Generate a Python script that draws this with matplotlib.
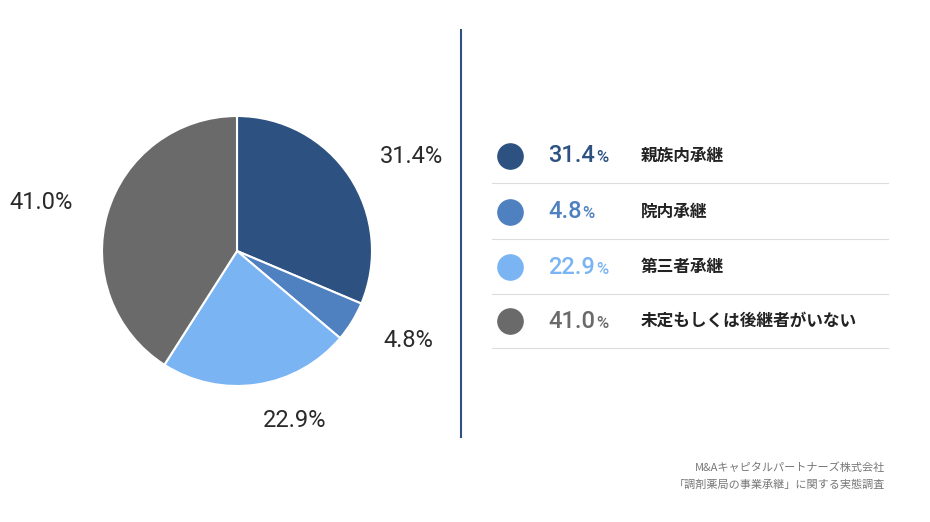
import numpy as np
import matplotlib
matplotlib.use("Agg")
import matplotlib.pyplot as plt

plt.rcParams['font.family'] = ['Noto Sans CJK JP', 'DejaVu Sans']

categories = ["親族内承継", "院内承継", "第三者承継", "未定もしくは後継者がいない"]
values = [31.4, 4.8, 22.9, 41.0]
colors = ["#2d5282", "#4f80c0", "#7ab4f2", "#6a6a6a"]
source_lines = ["M&Aキャピタルパートナーズ株式会社", "「調剤薬局の事業承継」に関する実態調査"]

W, H = 930, 522
fig = plt.figure(figsize=(W / 100, H / 100), dpi=100)
num_font = ["Roboto", "DejaVu Sans"]

# pie: center (237, 251), radius ~135 px
r = 135
pie_ax = fig.add_axes([(237 - r) / W, 1 - (251 + r) / H, 2 * r / W, 2 * r / H])
wedges, texts = pie_ax.pie(values, colors=colors, startangle=90, counterclock=False,
                           labels=[f"{v:.1f}%" for v in values], labeldistance=1.27,
                           wedgeprops=dict(edgecolor="white", linewidth=1.5),
                           textprops=dict(fontsize=17, color="#2a2a2a", family=num_font))
pie_ax.set_xlim(-1, 1)
pie_ax.set_ylim(-1, 1)
pie_ax.set_aspect("equal")

ov = fig.add_axes([0, 0, 1, 1])
ov.set_xlim(0, W)
ov.set_ylim(H, 0)
ov.axis("off")

ov.plot([461, 461], [30, 437], color="#2d5282", lw=1.5)

fig.canvas.draw()
renderer = fig.canvas.get_renderer()
rows_y = [156, 212, 267, 321]
for i, (cat, v, c) in enumerate(zip(categories, values, colors)):
    y = rows_y[i]
    ov.scatter([510], [y], s=330, color=c, zorder=3)
    t = ov.text(548, y, f"{v:.1f}", fontsize=17, color=c,
                va="center", ha="left", family=num_font, fontweight="medium")
    bb = t.get_window_extent(renderer)
    ov.text(bb.x1 + 1, y + 2, "%", fontsize=12, color=c,
            va="center", ha="left", family=num_font, fontweight="medium")
    ov.text(641, y, cat, fontsize=12, color="#222222", va="center", ha="left", fontweight="bold")
    ov.plot([492, 888], [y + 27, y + 27], color="#dddddd", lw=0.8)

ov.text(885, 468, source_lines[0], fontsize=8, color="#777777", ha="right", va="center")
ov.text(885, 485, source_lines[1], fontsize=8, color="#777777", ha="right", va="center")

fig.savefig("out.png", dpi=100, facecolor="white")
